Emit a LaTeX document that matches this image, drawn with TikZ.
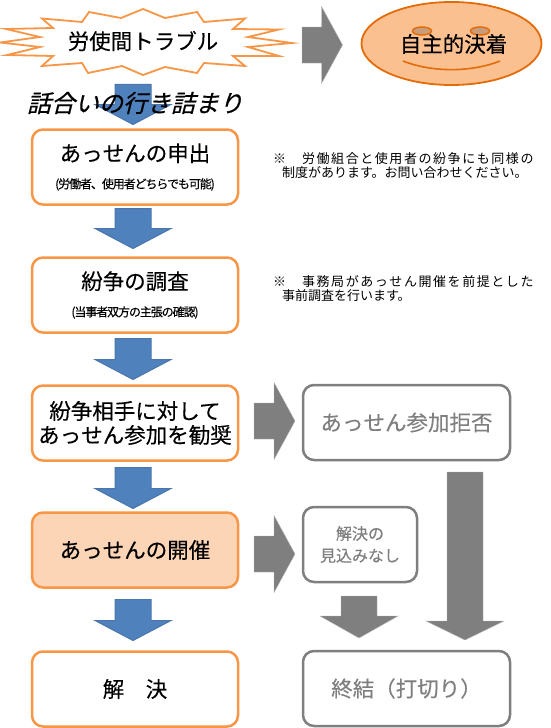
\documentclass[tikz,border=0pt]{standalone}
\usepackage{fontspec}
\setmainfont[FakeBold=0.25]{Noto Sans CJK JP}
\newfontfamily\subfont[LetterSpace=-9,FakeBold=0.3]{Noto Sans CJK JP}
\newfontfamily\noteA[LetterSpace=12]{Noto Sans CJK JP}
\newfontfamily\noteB{Noto Sans CJK JP}
\newfontfamily\slantfont[FakeSlant=0.25,FakeBold=0.6]{Noto Sans CJK JP}
\usetikzlibrary{calc,shapes.geometric}
\definecolor{boxorange}{HTML}{F79646}
\definecolor{blockblue}{HTML}{4F81BD}
\definecolor{blockedge}{HTML}{4A76AC}
\definecolor{midgray}{HTML}{7F7F7F}
\definecolor{facefill}{HTML}{FAC090}
\definecolor{faceedge}{HTML}{E36C0A}
\definecolor{eyefill}{HTML}{C99C7A}
\definecolor{hilite}{HTML}{FBD5B5}
\tikzset{
  mainbox/.style={draw=boxorange,line width=2.5pt,rounded corners=11pt,fill=white,minimum width=206pt,minimum height=75pt,inner sep=0pt,outer sep=0pt,align=center,font=\fontsize{21.5}{24}\selectfont},
  greybox/.style={draw=midgray,line width=2.5pt,rounded corners=11pt,fill=white,text=midgray,minimum height=75pt,inner sep=0pt,outer sep=0pt,align=center,font=\fontsize{21.5}{24}\selectfont},
  bluearrow/.style={fill=blockblue,draw=blockedge,line width=1pt,line join=miter},
  grayarrow/.style={fill=midgray,draw=midgray!60,line width=.4pt,line join=miter},
  notetext/.style={anchor=north west,inner sep=0pt,outer sep=0pt,align=left,font=\fontsize{13}{14}\selectfont},
}
\newcommand{\subline}[1]{{\subfont\fontsize{12}{12}\selectfont #1}}
% style, start, tip, half shaft, half head, head length
\newcommand{\blockdown}[6]{\draw[#1] let \p1=#2, \p2=#3 in
  (\x1-#4pt,\y1) -- (\x1+#4pt,\y1) -- (\x1+#4pt,\y2+#6pt) -- (\x1+#5pt,\y2+#6pt)
  -- (\x1,\y2) -- (\x1-#5pt,\y2+#6pt) -- (\x1-#4pt,\y2+#6pt) -- cycle;}
\newcommand{\blockright}[6]{\draw[#1] let \p1=#2, \p2=#3 in
  (\x1,\y1+#4pt) -- (\x1,\y1-#4pt) -- (\x2-#6pt,\y1-#4pt) -- (\x2-#6pt,\y1-#5pt)
  -- (\x2,\y1) -- (\x2-#6pt,\y1+#5pt) -- (\x2-#6pt,\y1+#4pt) -- cycle;}
\begin{document}
\begin{tikzpicture}[x=1pt,y=-1pt]
\useasboundingbox (0,0) rectangle (550,728);
% starburst
\draw[fill=white,draw=boxorange,line width=1.8pt,line join=miter]
 (0,42.5) -- (40,37) -- (6,29) -- (53,28) -- (42,18.5) -- (82,22) -- (89,12) -- (121,18) -- (143,9)
 -- (165,18) -- (197,12) -- (204,22) -- (245,18.5) -- (233,29) -- (279,29.5) -- (248,37) -- (292,43)
 -- (248,47) -- (279,56) -- (233,56) -- (245,66) -- (204,63) -- (197,73) -- (165,67) -- (143,75)
 -- (122,66) -- (88,73) -- (82,63) -- (42,66) -- (53,56) -- (7,55) -- (40,47) -- cycle;
\node[font=\fontsize{21.5}{24}\selectfont,inner sep=0pt] (trouble) at (143,41) {労使間トラブル};
% face
\node[ellipse,draw=faceedge,fill=facefill,line width=1.8pt,minimum width=180pt,minimum height=83pt,inner sep=0pt,outer sep=0pt] (self) at (451.5,43.5) {};
\node[ellipse,draw=faceedge,fill=eyefill,line width=1.5pt,minimum width=19pt,minimum height=8pt,inner sep=0pt] (eyeL) at (422,31) {};
\node[ellipse,draw=faceedge,fill=eyefill,line width=1.5pt,minimum width=19pt,minimum height=8pt,inner sep=0pt] (eyeR) at (480,31) {};
\draw[draw=faceedge,line width=1.6pt] (403,61) .. controls (432,72.5) and (471,72.5) .. (500,61);
\node[font=\fontsize{21.5}{24}\selectfont,inner sep=0pt] (selftext) at (453.5,44) {自主的決着};
% main column
\node[mainbox] (b1) at (135,167) {あっせんの申出\\[3pt]\subline{(労働者、使用者どちらでも可能)}};
\node[mainbox] (b2) at (135,295) {紛争の調査\\[3pt]\subline{(当事者双方の主張の確認)}};
\node[mainbox] (b3) at (135,423) {紛争相手に対して\\あっせん参加を勧奨};
\node[mainbox,fill=hilite] (b4) at (135,550) {あっせんの開催};
\node[mainbox] (b5) at (135,689) {解　決};
% right column
\node[greybox,minimum width=207pt] (g1) at (406.5,422.5) {あっせん参加拒否};
\node[greybox,minimum width=114pt,font=\fontsize{16}{22}\selectfont] (g2) at (360,544.5) {解決の\\見込みなし};
\node[greybox,minimum width=207pt] (g3) at (406.5,688.5) {終結（打切り）};
% notes
\node[notetext] (n1) at (273,153) {{\noteA ※　労働組合と使用者の紛争にも同様の}\\\hspace{9pt}{\noteB 制度があります。お問い合わせください。}};
\node[notetext] (n2) at (273,275) {{\noteA ※　事務局があっせん開催を前提とした}\\\hspace{9pt}{\noteB 事前調査を行います。}};
% blue arrows
\blockdown{bluearrow}{($(trouble.south)+(-10,33)$)}{($(b1.north)+(-2,-5)$)}{18}{38}{20}
\node[font=\fontsize{24}{24}\selectfont\slantfont,inner sep=0pt] (talk) at (135,103) {話合いの行き詰まり};
\blockdown{bluearrow}{($(b1.south)+(-2,4)$)}{($(b2.north)+(-2,-9)$)}{18}{38}{20}
\blockdown{bluearrow}{($(b2.south)+(-2,6)$)}{($(b3.north)+(-2,-6)$)}{18}{38}{20}
\blockdown{bluearrow}{($(b3.south)+(-2,7)$)}{($(b4.north)+(-2,-4)$)}{18}{38}{20}
\blockdown{bluearrow}{($(b4.south)+(-2,12)$)}{($(b5.north)+(-2,-11)$)}{18}{38}{20}
% gray arrows
\blockright{grayarrow}{(302,45)}{($(self.west)+(-19,0)$)}{18}{38.5}{21}
\blockright{grayarrow}{($(b3.east)+(16,-2)$)}{($(g1.west)+(-8,0)$)}{18}{38.5}{21}
\blockright{grayarrow}{($(b4.east)+(16,4)$)}{($(g2.west)+(-8,0)$)}{18}{38.5}{21}
\blockdown{grayarrow}{($(g2.south)+(-1,14)$)}{($(g3.north)+(-47.5,-13)$)}{18}{39}{22}
\blockdown{grayarrow}{($(g1.south)+(58.5,12)$)}{($(g3.north)+(58.5,-11)$)}{18}{39}{19}
\end{tikzpicture}
\end{document}
